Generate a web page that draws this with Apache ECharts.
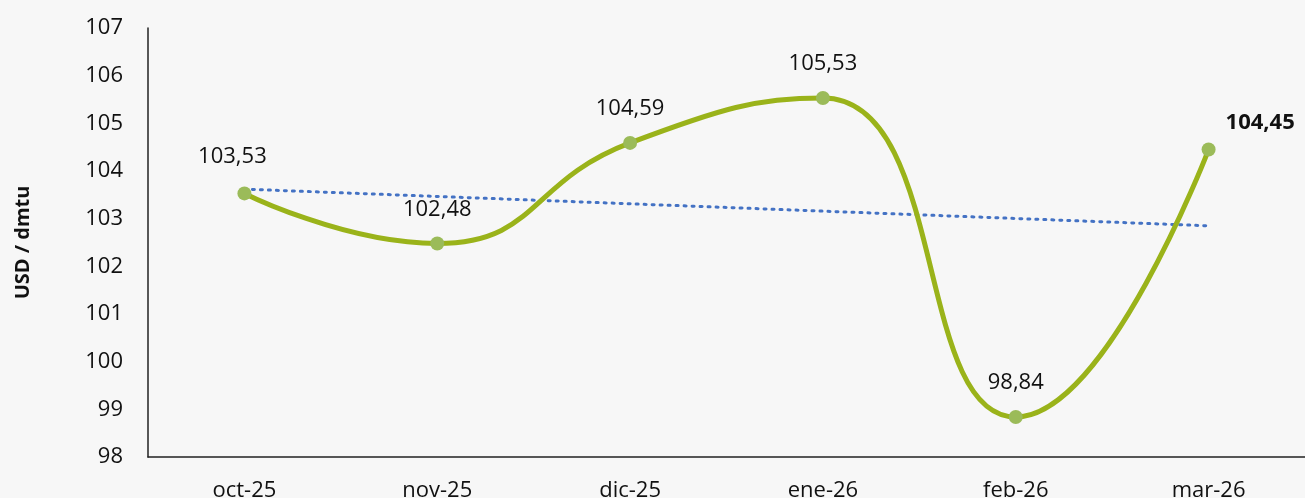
<!DOCTYPE html>
<html>
<head>
<meta charset="utf-8">
<script src="https://cdn.jsdelivr.net/npm/echarts@6/dist/echarts.min.js"></script>
<style>
  html, body { margin: 0; padding: 0; background: #f7f7f7; }
  #chart { width: 1305px; height: 498px; }
</style>
</head>
<body>
<div id="chart"></div>
<script>
// meses y precios (USD / dmtu)
var months = ['oct-25', 'nov-25', 'dic-25', 'ene-26', 'feb-26', 'mar-26'];
var prices = [103.53, 102.48, 104.59, 105.53, 98.84, 104.45];
// línea de tendencia (extremos)
var trend = [103.62, '-', '-', '-', '-', 102.85];
var yTicks = [98, 99, 100, 101, 102, 103, 104, 105, 106, 107];

var chartDom = document.getElementById('chart');
var myChart = echarts.init(chartDom);

var lastIdx = prices.length - 1;
var priceData = prices.map(function (v, i) {
  var item = { value: v };
  if (i === lastIdx) {
    item.label = {
      position: 'right',
      offset: [-6, -27],
      fontWeight: 'bold'
    };
  } else if (i === 0) {
    item.label = { offset: [-12, -3] };
  }
  return item;
});

var font = '"Open Sans", Lato, sans-serif';

var option = {
  backgroundColor: '#f7f7f7',
  animation: false,
  grid: {
    left: 148, right: 0, top: 28, bottom: 41,
    containLabel: false,
    outerBoundsMode: 'none'
  },
  xAxis: {
    type: 'category',
    data: months,
    boundaryGap: true,
    axisLine: { lineStyle: { color: '#222', width: 1.5 } },
    axisTick: { show: false },
    axisLabel: { color: '#111', fontSize: 22, fontFamily: font, margin: 23 }
  },
  yAxis: {
    type: 'value',
    min: yTicks[0],
    max: yTicks[yTicks.length - 1],
    interval: 1,
    name: 'USD / dmtu',
    nameLocation: 'middle',
    nameGap: 115,
    nameTextStyle: { color: '#111', fontSize: 20, fontWeight: 'bold', fontFamily: font },
    axisLine: { show: true, lineStyle: { color: '#222', width: 1.5 } },
    axisTick: { show: false },
    splitLine: { show: false },
    axisLabel: { color: '#111', fontSize: 22, fontFamily: font, margin: 25 }
  },
  series: [
    {
      name: 'Tendencia',
      type: 'line',
      data: trend,
      connectNulls: true,
      symbol: 'none',
      lineStyle: { color: '#4472C4', width: 3, type: [2, 6], cap: 'round' },
      z: 1
    },
    {
      name: 'Precio',
      type: 'line',
      data: priceData,
      smooth: 0.5,
      symbol: 'circle',
      symbolSize: 14,
      itemStyle: { color: '#9BBB59' },
      lineStyle: { color: '#9AB31A', width: 5 },
      label: {
        show: true,
        position: 'top',
        distance: 16,
        color: '#111',
        fontSize: 22,
        fontFamily: font,
        formatter: function (p) {
          return p.value.toFixed(2).replace('.', ',');
        }
      },
      z: 2
    }
  ]
};

option && myChart.setOption(option);
</script>
</body>
</html>
